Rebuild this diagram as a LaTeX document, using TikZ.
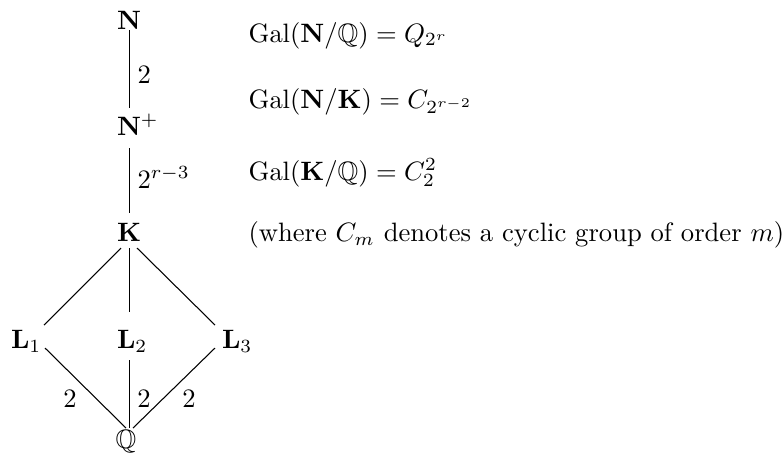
\documentclass[tikz,border=0pt]{standalone}
\usepackage{amsmath,amssymb}
\usetikzlibrary{calc}
\begin{document}
\begin{tikzpicture}[x=0.376pt,y=-0.376pt,
  fld/.style={inner sep=0pt,outer sep=0pt},
  deg/.style={inner sep=0pt,outer sep=0pt},
  txt/.style={inner sep=0pt,outer sep=0pt,anchor=base west},
  conn/.style={line width=0.4pt}]
\useasboundingbox (0,0) rectangle (783,460);
% field nodes
\node[fld,anchor=base] (N) at (129,29) {$\mathbf{N}$};
\node[fld,anchor=base west] (Np) at (117,135) {$\mathbf{N}^{+}$};
\node[fld,anchor=base] (K) at (129,241) {$\mathbf{K}$};
\node[fld,anchor=base west] (L1) at (11,348) {$\mathbf{L}_1$};
\node[fld,anchor=base west] (L2) at (117,348) {$\mathbf{L}_2$};
\node[fld,anchor=base west] (L3) at (222,348) {$\mathbf{L}_3$};
\node[fld,anchor=base] (Q) at (126,448) {$\mathbb{Q}$};
% degree labels
\node[deg,anchor=base west] (d1) at (137.5,83) {$2$};
\node[deg,anchor=base west] (d2) at (137.5,188) {$2^{r-3}$};
\node[deg,anchor=base] (d3) at (70,407) {$2$};
\node[deg,anchor=base] (d4) at (144,407) {$2$};
\node[deg,anchor=base] (d5) at (189,407) {$2$};
% connectors
\draw[conn] ($(N.base)+(0.5,1)$) -- ($(Np.base west)+(12.5,-27)$);
\draw[conn] ($(Np.base west)+(12.5,13)$) -- ($(K.base)+(0.5,-28)$);
\draw[conn] ($(K.base)+(0.5,7)$) -- ($(L2.base west)+(12.5,-36)$);
\draw[conn] ($(K.base)+(-8,7)$) -- ($(L1.base west)+(33,-23)$);
\draw[conn] ($(K.base)+(8,7)$) -- ($(L3.base west)+(-7,-23)$);
\draw[conn] ($(L1.base west)+(34,0)$) -- ($(Q.base)+(0,-20)$);
\draw[conn] ($(L2.base west)+(12.5,12)$) -- ($(Q.base)+(3.5,-20)$);
\draw[conn] ($(L3.base west)+(-7,0)$) -- ($(Q.base)+(7,-20)$);
% right-hand text
\node[txt] (t1) at (248.5,42) {$\mathrm{Gal}(\mathbf{N}/\mathbb{Q}) = Q_{2^r}$};
\node[txt] (t2) at (248.5,108) {$\mathrm{Gal}(\mathbf{N}/\mathbf{K}) = C_{2^{r-2}}$};
\node[txt] (t3) at (248.5,180) {$\mathrm{Gal}(\mathbf{K}/\mathbb{Q}) = C_2^2$};
\node[txt] (t4) at (248.5,241) {(where $C_m$ denotes a cyclic group of order $m$)};
\end{tikzpicture}
\end{document}
